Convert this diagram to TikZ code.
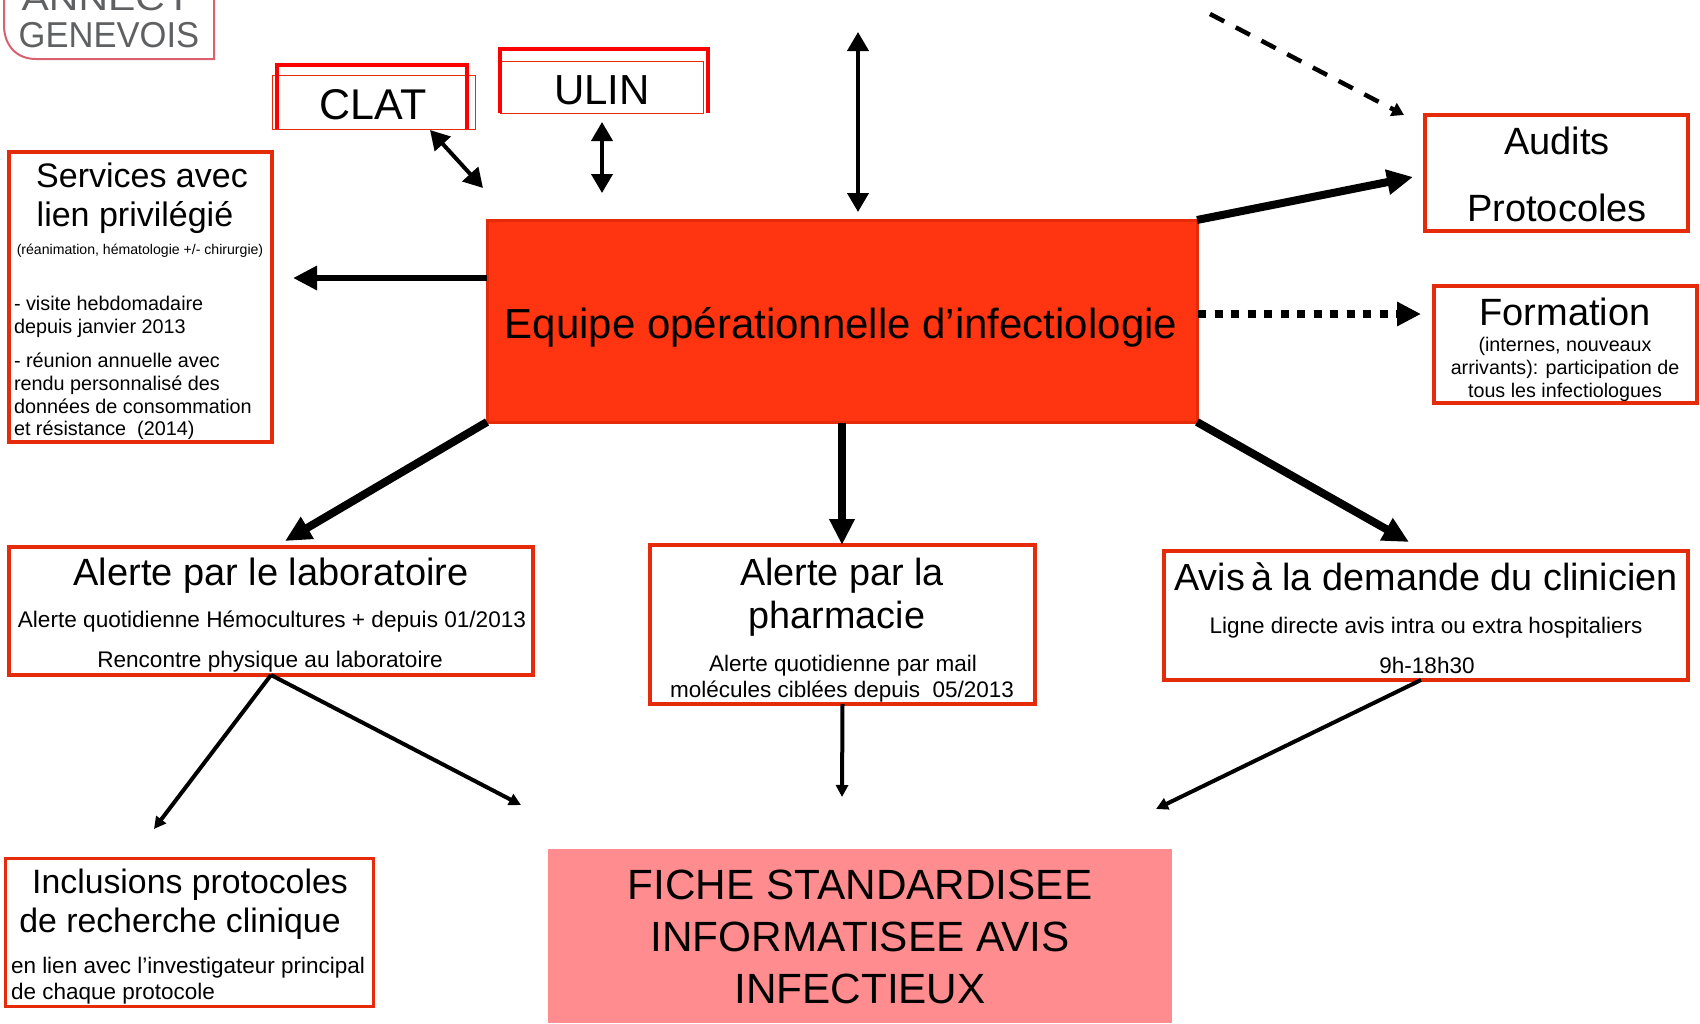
\documentclass[tikz,border=0pt]{standalone}
\usepackage{fontspec}
\setmainfont{Liberation Sans}
\usetikzlibrary{arrows.meta}
\definecolor{boxred}{HTML}{E62B0B}
\definecolor{eqfill}{HTML}{FF3410}
\definecolor{fiche}{HTML}{FF8C8E}
\definecolor{logopink}{HTML}{D8606F}
\definecolor{logogray}{HTML}{5F6062}
\newcommand{\fs}[1]{\fontsize{#1}{#1}\selectfont}
\newcommand{\bx}[6]{\node[#2,minimum width={(#5-#3)*1pt},minimum height={(#6-#4)*1pt}] (#1) at ({(#3+#5)/2},{(#4+#6)/2}) {};}
\newcommand{\tc}[4]{\node[txt] at (#1,#2) {\fs{#3}#4};}
\newcommand{\tl}[4]{\node[txt,anchor=base west] at (#1,#2) {\fs{#3}#4};}
\tikzset{
  txt/.style={anchor=base,inner sep=0pt,outer sep=0pt,text=black},
  redbox/.style={draw=boxred,line width=4pt,fill=white,inner sep=0pt,outer sep=0pt},
  thinbox/.style={draw=boxred,line width=1pt,inner sep=0pt,outer sep=0pt},
  eqbox/.style={draw=boxred,line width=3pt,fill=eqfill,inner sep=0pt,outer sep=0pt},
  fichebox/.style={fill=fiche,inner sep=0pt,outer sep=0pt},
  openred/.style={draw=red,line width=4.5pt},
  big/.style={line width=8pt,-{Triangle[length=26pt,width=24pt]}},
  mid/.style={line width=6.5pt,-{Triangle[length=24pt,width=23pt]}},
  dbl/.style={line width=4pt,{Triangle[length=19pt,width=21pt]}-{Triangle[length=19pt,width=21pt]}},
  small/.style={line width=4pt,-{Triangle[length=12pt,width=12pt]}},
}
\begin{document}
\begin{tikzpicture}[x=1pt,y=-1pt]
\useasboundingbox (0,0) rectangle (1700,1023);
% logo
\draw[logopink,line width=2pt] (4,-10) -- (4,25) .. controls (4,45) and (16,59) .. (36,59) -- (214,59) -- (214,-10);
\node[txt,text=logogray,transform shape,xscale=1.17] at (107,10) {\fs{35}ANNECY};
\node[txt,text=logogray,transform shape,xscale=.96] at (109,47) {\fs{36}GENEVOIS};
% boxes
\bx{clat}{thinbox}{272}{75}{475}{129}
\bx{ulin}{thinbox}{500}{61}{703}{113}
\draw[openred] (277,129) -- (277,65) -- (467,65) -- (467,129);
\draw[openred] (500,113) -- (500,49) -- (708,49) -- (708,113);
\bx{serv}{redbox}{9}{152}{272}{442}
\bx{eq}{eqbox}{487}{220}{1197}{422}
\bx{aud}{redbox}{1425}{115}{1688}{231}
\bx{form}{redbox}{1434}{286}{1697}{403}
\bx{lab}{redbox}{9}{547}{533}{675}
\bx{pharm}{redbox}{650}{545}{1035}{704}
\bx{avis}{redbox}{1164}{551}{1688}{680}
\bx{incl}{redbox,line width=3pt}{5.5}{858}{373}{1006.5}
\bx{fic}{fichebox}{548}{849}{1172}{1023}
% free ends
\coordinate (clatEnd) at (430,130);
\coordinate (clatEq) at (483,188);
\coordinate (ulinTop) at (602,122);
\coordinate (ulinEq) at (602,193);
\coordinate (topEnd) at (858,32);
\coordinate (topEq) at (858,212);
\coordinate (dashA) at (1210,14);
\coordinate (dashB) at (1404,115);
\coordinate (audIn) at (1413,177);
\coordinate (formIn) at (1421,314);
\coordinate (formOut) at (1198,314);
\coordinate (servIn) at (293,278);
\coordinate (servOut) at (487,278);
\coordinate (labIn) at (285,541);
\coordinate (pharmIn) at (842,545);
\coordinate (pharmOut) at (842,423);
\coordinate (avisIn) at (1409,542);
\coordinate (labA) at (154,829);
\coordinate (labB) at (521,805);
\coordinate (phEnd) at (842,797);
\coordinate (avisOut) at (1421,680);
\coordinate (avisEnd) at (1156,809);
% connectors
\draw[dbl] (clatEnd) -- (clatEq);
\draw[dbl] (ulinTop) -- (ulinEq);
\draw[dbl] (topEnd) -- (topEq);
\draw[line width=4.5pt,dash pattern=on 16pt off 13pt,-{Triangle[length=12pt,width=14pt]}] (dashA) -- (dashB);
\draw[big] (eq.north east) -- (audIn);
\draw[line width=8pt,dash pattern=on 8pt off 8.5pt,-{Triangle[length=24pt,width=23pt]}] (formOut) -- (formIn);
\draw[mid] (servOut) -- (servIn);
\draw[big] (eq.south west) -- (labIn);
\draw[big] (pharmOut) -- (pharmIn);
\draw[big] (eq.south east) -- (avisIn);
\draw[small] (lab.south) -- (labA);
\draw[small] (lab.south) -- (labB);
\draw[small] (pharm.south) -- (phEnd);
\draw[small] (avisOut) -- (avisEnd);
% texts
\tc{373}{119}{43}{CLAT}
\tc{602}{104}{42}{ULIN}
\tc{142}{187}{34}{Services avec}
\tc{135}{226}{34}{lien privilégié}
\tc{140}{254}{14.1}{(réanimation, hématologie +/- chirurgie)}
\tl{14}{310}{19.8}{- visite hebdomadaire}
\tl{14}{333}{19.8}{depuis janvier 2013}
\tl{14}{367}{19.8}{- réunion annuelle avec}
\tl{14}{390}{19.8}{rendu personnalisé des}
\tl{14}{413}{19.8}{données de consommation}
\tl{14}{435}{19.8}{et résistance~~(2014)}
\tc{841}{338}{42}{Equipe opérationnelle d’infectiologie}
\tc{1557}{154}{38}{Audits}
\tc{1557}{221}{38}{Protocoles}
\tc{1565}{325}{38}{Formation}
\tc{1565}{351}{19.7}{(internes, nouveaux}
\tc{1565}{374}{19.7}{arrivants): participation de}
\tc{1565}{397}{19.7}{tous les infectiologues}
\tc{271}{585}{38}{Alerte par le laboratoire}
\tc{272}{627}{22.6}{Alerte quotidienne Hémocultures + depuis 01/2013}
\tc{270}{667}{22.6}{Rencontre physique au laboratoire}
\tc{842}{585}{37.8}{Alerte par la}
\tc{837}{628}{37.8}{pharmacie}
\tc{843}{671}{22.5}{Alerte quotidienne par mail}
\tc{842}{697}{22.5}{molécules ciblées depuis~~05/2013}
\tc{1426}{590}{37.8}{Avis\kern6pt à la demande du clinicien}
\tc{1426}{633}{22.5}{Ligne directe avis intra ou extra hospitaliers}
\tc{1427}{673}{22.5}{9h-18h30}
\tc{190}{893}{33.8}{Inclusions protocoles}
\tc{180}{932}{33.8}{de recherche clinique}
\tl{11}{973}{22.5}{en lien avec l’investigateur principal}
\tl{11}{999}{22.5}{de chaque protocole}
\tc{860}{899}{42.3}{FICHE STANDARDISEE}
\tc{860}{951}{42.3}{INFORMATISEE AVIS}
\tc{860}{1003}{42.3}{INFECTIEUX}
\end{tikzpicture}
\end{document}
